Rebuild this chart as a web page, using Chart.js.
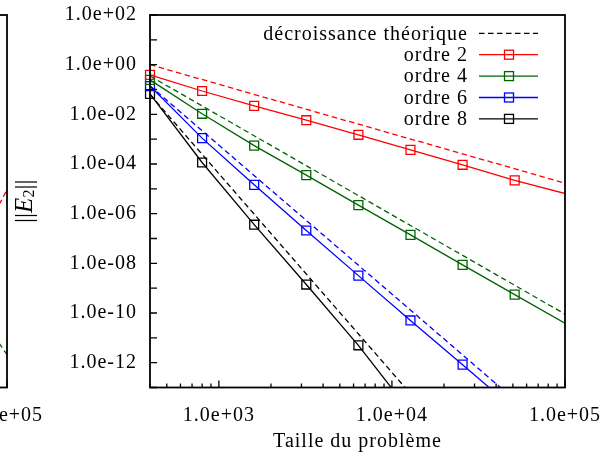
<!DOCTYPE html>
<html>
<head>
<meta charset="utf-8">
<script src="https://cdn.jsdelivr.net/npm/chart.js@4.4.0/dist/chart.umd.min.js"></script>
<style>
  html, body { margin: 0; padding: 0; background: #fff; overflow: hidden; }
  #wrap { position: relative; width: 602px; height: 455px; overflow: hidden; }
  #left { position: absolute; left: -558px; top: 0; }
  #main { position: absolute; left: 0; top: 0; }
</style>
</head>
<body>
<div id="wrap">
  <canvas id="left" width="602" height="455"></canvas>
  <canvas id="main" width="602" height="455"></canvas>
</div>
<script>
// tailles du problème (axe x)
const sizes = [400, 800, 1600, 3200, 6400, 12800, 25600, 51200, 102400];
// erreurs ||E2||
const ordre2 = [3.9e-1, 8.7e-2, 2.2e-2, 5.8e-3, 1.5e-3, 3.7e-4, 9.3e-5, 2.2e-5, 6.2e-6];
const ordre4 = [2.45e-1, 1.05e-2, 5.5e-4, 3.55e-5, 2.2e-6, 1.4e-7, 8.7e-9, 5.5e-10, 3.5e-11];
const ordre6 = [1.38e-1, 1.1e-3, 1.45e-5, 2.1e-7, 3.2e-9, 5.0e-11, 8.3e-13, 1.3e-14, null];
const ordre8 = [6.6e-2, 1.15e-4, 3.6e-7, 1.4e-9, 5.0e-12, 1.0e-14, null, null, null];

// décroissance théorique (droites d'un bord à l'autre)
const theoSizes = [400, 100000];
const theo2 = [1.0, 1.7e-5];
const theo4 = [3.5e-1, 9.0e-11];
const theo6 = [1.4e-1, 5.8e-16];
const theo8 = [6.3e-2, 4.0e-21];

// bout visible du graphique de gauche
const leftSizes = [90000, 100000];
const leftTheo2 = [2.3e-6, 9.1e-6];
const leftTheo4 = [6.1e-12, 2.1e-12];

const seriesLabels = ['ordre 2', 'ordre 4', 'ordre 6', 'ordre 8'];
const theoryLabel = 'décroissance théorique';
const colors = ['#ff0000', '#006400', '#0000ff', '#000000'];

const xTickValues = [400, 500, 600, 700, 800, 900, 1000, 2000, 3000, 4000, 5000, 6000, 7000, 8000, 9000,
  10000, 20000, 30000, 40000, 50000, 60000, 70000, 80000, 90000, 100000];
const xTickLabels = ['', '', '', '', '', '', '1.0e+03', '', '', '', '', '', '', '', '',
  '1.0e+04', '', '', '', '', '', '', '', '', '1.0e+05'];
const yTickValues = [1e-13, 1e-12, 1e-11, 1e-10, 1e-9, 1e-8, 1e-7, 1e-6, 1e-5, 1e-4, 1e-3, 1e-2, 1e-1, 1e0, 1e1, 1e2];
const yTickLabels = ['', '1.0e-12', '', '1.0e-10', '', '1.0e-08', '', '1.0e-06', '', '1.0e-04', '', '1.0e-02', '', '1.0e+00', '', '1.0e+02'];

const FONT = '"Liberation Serif", "DejaVu Serif", serif';
const DASH = [5.5, 3.5];

function pts(xs, ys) {
  return xs.map((x, i) => ({x: x, y: ys[i]}));
}

function solidSet(i, values) {
  return {
    label: seriesLabels[i],
    data: pts(sizes, values),
    borderColor: colors[i],
    borderWidth: 1.3,
    pointStyle: 'rect',
    pointRadius: ctx => (ctx.raw && ctx.raw.x > 100000) ? 0 : 6.3,
    pointBorderColor: colors[i],
    pointBackgroundColor: 'rgba(0,0,0,0)',
    pointBorderWidth: 1.3,
    clip: {left: 8, top: 0, right: 0, bottom: 0},
    inLegend: true
  };
}

function dashSet(xs, values, color) {
  return {
    label: theoryLabel,
    data: pts(xs, values),
    borderColor: color,
    borderWidth: 1.3,
    borderDash: DASH,
    pointRadius: 0,
    clip: 0
  };
}

// un peu d'espacement pour se rapprocher de la police d'origine
const spacingPlugin = {
  id: 'spacing',
  beforeDraw(chart) {
    chart.ctx.letterSpacing = '1px';
  }
};

// cadre + graduations vers l'intérieur
const framePlugin = {
  id: 'frame',
  afterDatasetsDraw(chart) {
    const {ctx, chartArea: a, scales} = chart;
    ctx.save();
    ctx.strokeStyle = '#000';
    ctx.lineWidth = 1.3;
    ctx.beginPath();
    scales.y.ticks.forEach(t => {
      const y = scales.y.getPixelForValue(t.value);
      ctx.moveTo(a.left, y);
      ctx.lineTo(a.left + 7, y);
    });
    scales.x.ticks.forEach((t, i) => {
      const x = scales.x.getPixelForValue(t.value);
      const len = xTickLabels[i] ? 7 : 4;
      ctx.moveTo(x, a.bottom);
      ctx.lineTo(x, a.bottom - len);
    });
    ctx.stroke();
    ctx.lineWidth = 1.8;
    ctx.strokeRect(a.left, a.top, a.right - a.left, a.bottom - a.top);
    ctx.restore();
  }
};

// légende dans le coin haut droit, texte aligné à droite
const legendPlugin = {
  id: 'innerLegend',
  afterDatasetsDraw(chart) {
    const {ctx, chartArea: a} = chart;
    const items = [{label: theoryLabel, color: '#000', dash: DASH, marker: false}];
    chart.data.datasets.forEach(ds => {
      if (ds.inLegend) items.push({label: ds.label, color: ds.borderColor, dash: [], marker: true});
    });
    ctx.save();
    ctx.font = '20px ' + FONT;
    ctx.textAlign = 'right';
    ctx.textBaseline = 'middle';
    items.forEach((it, i) => {
      const y = a.top + 18.3 + i * 21.4;
      ctx.fillStyle = '#000';
      ctx.fillText(it.label, a.right - 97, y + 1);
      ctx.strokeStyle = it.color;
      ctx.lineWidth = 1.3;
      ctx.setLineDash(it.dash);
      ctx.beginPath();
      ctx.moveTo(a.right - 86, y);
      ctx.lineTo(a.right - 27, y);
      ctx.stroke();
      ctx.setLineDash([]);
      if (it.marker) ctx.strokeRect(a.right - 56 - 4.5, y - 4.5, 9, 9);
    });
    ctx.restore();
  }
};

// titre de l'axe y : ||E_2||
const yTitlePlugin = {
  id: 'yTitle',
  afterDraw(chart) {
    const {ctx, chartArea: a} = chart;
    const parts = [
      {t: '||', f: '25px ' + FONT, dy: 0},
      {t: 'E', f: 'italic 25px ' + FONT, dy: 0},
      {t: '2', f: '16px ' + FONT, dy: 5},
      {t: '||', f: '25px ' + FONT, dy: 0}
    ];
    ctx.save();
    ctx.letterSpacing = '0px';
    ctx.translate(25, (a.top + a.bottom) / 2);
    ctx.rotate(-Math.PI / 2);
    ctx.textBaseline = 'middle';
    ctx.textAlign = 'left';
    ctx.fillStyle = '#000';
    let w = 0;
    parts.forEach(p => { ctx.font = p.f; p.w = ctx.measureText(p.t).width; w += p.w; });
    let x = -w / 2;
    parts.forEach(p => { ctx.font = p.f; ctx.fillText(p.t, x, p.dy); x += p.w; });
    ctx.restore();
  }
};

Chart.defaults.color = '#000';

function makeChart(id, datasets, plugins) {
  return new Chart(document.getElementById(id), {
    type: 'line',
    data: {datasets: datasets},
    options: {
      responsive: false,
      animation: false,
      devicePixelRatio: 1,
      layout: {padding: {top: 15, right: 37, left: 0, bottom: 0}},
      plugins: {legend: {display: false}, tooltip: {enabled: false}},
      scales: {
        x: {
          type: 'logarithmic',
          min: 400,
          max: 100000,
          grid: {display: false, drawTicks: false},
          border: {display: false},
          afterBuildTicks: s => { s.ticks = xTickValues.map(v => ({value: v})); },
          afterFit: s => { s.height = 67.5; s.paddingLeft = 0; s.paddingRight = 0; },
          ticks: {
            autoSkip: false,
            maxRotation: 0,
            padding: 16,
            font: {family: FONT, size: 20},
            callback: (v, i) => xTickLabels[i]
          },
          title: {
            display: true,
            text: 'Taille du problème',
            font: {family: FONT, size: 20},
            padding: {top: 0, bottom: 1}
          }
        },
        y: {
          type: 'logarithmic',
          min: 1e-13,
          max: 1e2,
          grid: {display: false, drawTicks: false},
          border: {display: false},
          afterBuildTicks: s => { s.ticks = yTickValues.map(v => ({value: v})); },
          afterFit: s => { s.width = 150; s.paddingTop = 0; s.paddingBottom = 0; },
          ticks: {
            autoSkip: false,
            padding: 13,
            font: {family: FONT, size: 20},
            callback: (v, i) => yTickLabels[i]
          }
        }
      }
    },
    plugins: plugins
  });
}

makeChart('left', [
  dashSet(leftSizes, leftTheo2, colors[0]),
  dashSet(leftSizes, leftTheo4, colors[1])
], [spacingPlugin, framePlugin]);

makeChart('main', [
  dashSet(theoSizes, theo2, colors[0]),
  dashSet(theoSizes, theo4, colors[1]),
  dashSet(theoSizes, theo6, colors[2]),
  dashSet(theoSizes, theo8, colors[3]),
  solidSet(0, ordre2),
  solidSet(1, ordre4),
  solidSet(2, ordre6),
  solidSet(3, ordre8)
], [spacingPlugin, framePlugin, legendPlugin, yTitlePlugin]);
</script>
</body>
</html>
